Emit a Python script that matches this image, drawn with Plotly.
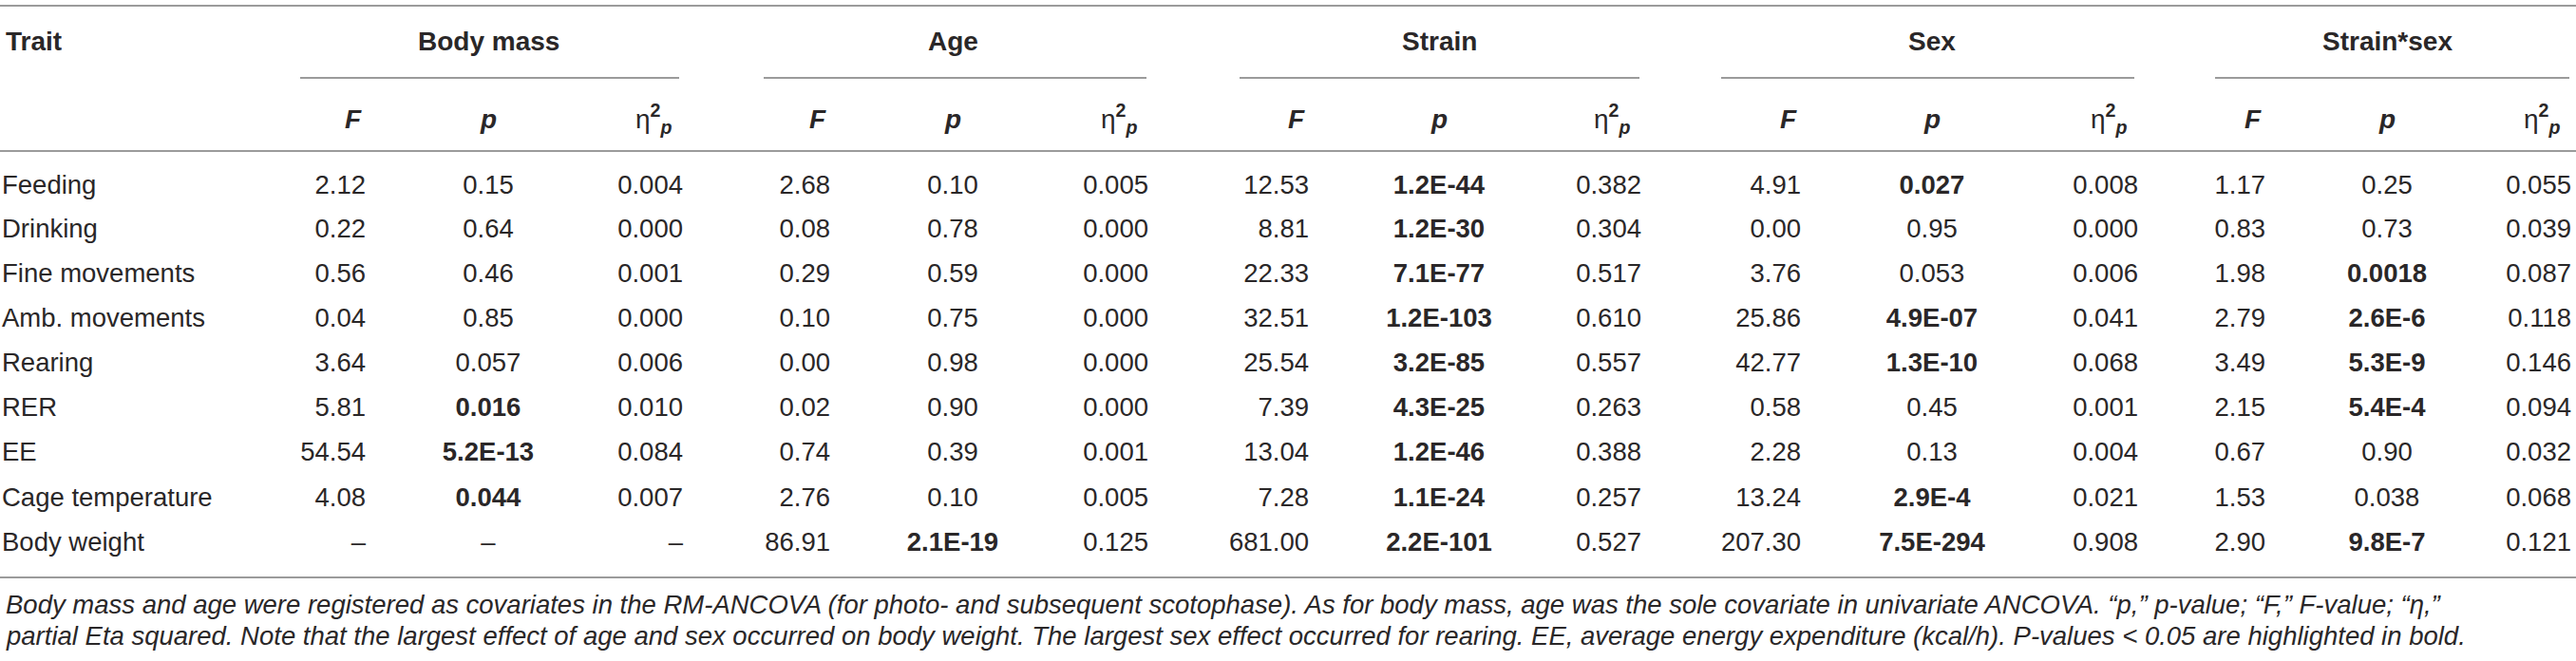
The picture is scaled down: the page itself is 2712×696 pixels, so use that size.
import plotly.graph_objects as go

# table content
traits = ["Feeding", "Drinking", "Fine movements", "Amb. movements", "Rearing",
          "RER", "EE", "Cage temperature", "Body weight"]
groups = ["Body mass", "Age", "Strain", "Sex", "Strain*sex"]

body_mass_F = ["2.12", "0.22", "0.56", "0.04", "3.64", "5.81", "54.54", "4.08", "–"]
body_mass_p = ["0.15", "0.64", "0.46", "0.85", "0.057", "0.016", "5.2E-13", "0.044", "–"]
body_mass_eta = ["0.004", "0.000", "0.001", "0.000", "0.006", "0.010", "0.084", "0.007", "–"]

age_F = ["2.68", "0.08", "0.29", "0.10", "0.00", "0.02", "0.74", "2.76", "86.91"]
age_p = ["0.10", "0.78", "0.59", "0.75", "0.98", "0.90", "0.39", "0.10", "2.1E-19"]
age_eta = ["0.005", "0.000", "0.000", "0.000", "0.000", "0.000", "0.001", "0.005", "0.125"]

strain_F = ["12.53", "8.81", "22.33", "32.51", "25.54", "7.39", "13.04", "7.28", "681.00"]
strain_p = ["1.2E-44", "1.2E-30", "7.1E-77", "1.2E-103", "3.2E-85", "4.3E-25", "1.2E-46", "1.1E-24", "2.2E-101"]
strain_eta = ["0.382", "0.304", "0.517", "0.610", "0.557", "0.263", "0.388", "0.257", "0.527"]

sex_F = ["4.91", "0.00", "3.76", "25.86", "42.77", "0.58", "2.28", "13.24", "207.30"]
sex_p = ["0.027", "0.95", "0.053", "4.9E-07", "1.3E-10", "0.45", "0.13", "2.9E-4", "7.5E-294"]
sex_eta = ["0.008", "0.000", "0.006", "0.041", "0.068", "0.001", "0.004", "0.021", "0.908"]

inter_F = ["1.17", "0.83", "1.98", "2.79", "3.49", "2.15", "0.67", "1.53", "2.90"]
inter_p = ["0.25", "0.73", "0.0018", "2.6E-6", "5.3E-9", "5.4E-4", "0.90", "0.038", "9.8E-7"]
inter_eta = ["0.055", "0.039", "0.087", "0.118", "0.146", "0.094", "0.032", "0.068", "0.121"]

# the source leaves this one unbolded
not_bold = {("Strain*sex", "Cage temperature")}

footnote = [
    "Body mass and age were registered as covariates in the RM-ANCOVA (for photo- and subsequent scotophase). "
    "As for body mass, age was the sole covariate in univariate ANCOVA. “p,” p-value; “F,” F-value; “η,”",
    "partial Eta squared. Note that the largest effect of age and sex occurred on body weight. "
    "The largest sex effect occurred for rearing. EE, average energy expenditure (kcal/h). "
    "P-values < 0.05 are highlighted in bold.",
]

columns = {
    "Body mass": (body_mass_F, body_mass_p, body_mass_eta),
    "Age": (age_F, age_p, age_eta),
    "Strain": (strain_F, strain_p, strain_eta),
    "Sex": (sex_F, sex_p, sex_eta),
    "Strain*sex": (inter_F, inter_p, inter_eta),
}

# layout (pixels)
W, H = 2712, 696
FONT = "Liberation Sans, Arial, Helvetica, sans-serif"
INK = "#2a2728"
RULE = "#9b9b9b"
SIZE = 27.5
HEAD = 28
NOTE = 27.5
row_y = [197, 243, 290, 337, 384, 431, 478, 526, 573]
F_right = [383, 872, 1376, 1894, 2383]
p_center = [514, 1003, 1515, 2034, 2513]
eta_right = [717, 1207, 1726, 2249, 2705]
group_rule = [(316, 715), (804, 1207), (1305, 1726), (1812, 2247), (2332, 2705)]


def is_bold(group, trait, p):
    try:
        return float(p) < 0.05 and (group, trait) not in not_bold
    except ValueError:
        return False


cell_font = dict(family=FONT, size=SIZE, color=INK)
head_font = dict(family=FONT, size=HEAD, color=INK)

fig = go.Figure()

# trait names
fig.add_trace(go.Scatter(x=[2] * len(traits), y=row_y, text=traits, mode="text",
                         textposition="middle right", textfont=cell_font))

for i, g in enumerate(groups):
    F, p, eta = columns[g]
    fig.add_trace(go.Scatter(x=[F_right[i] + 2] * len(F), y=row_y, text=F, mode="text",
                             textposition="middle left", textfont=cell_font))
    p_txt = [f"<b>{v}</b>" if is_bold(g, t, v) else v for t, v in zip(traits, p)]
    fig.add_trace(go.Scatter(x=[p_center[i]] * len(p), y=row_y, text=p_txt, mode="text",
                             textposition="middle center", textfont=cell_font))
    fig.add_trace(go.Scatter(x=[eta_right[i] + 2] * len(eta), y=row_y, text=eta, mode="text",
                             textposition="middle left", textfont=cell_font))

    # header cells
    fig.add_annotation(x=p_center[i], y=43, text=f"<b>{g}</b>", showarrow=False,
                       xanchor="center", yanchor="middle", font=head_font)
    fig.add_annotation(x=F_right[i], y=125, text="<b><i>F</i></b>", showarrow=False,
                       xanchor="right", yanchor="middle", font=head_font)
    fig.add_annotation(x=p_center[i], y=125, text="<b><i>p</i></b>", showarrow=False,
                       xanchor="center", yanchor="middle", font=head_font)
    fig.add_annotation(x=eta_right[i] - 8, y=125, text="η<sup><b>2</b></sup><sub><b><i>p</i></b></sub>",
                       showarrow=False, xanchor="right", yanchor="middle", font=head_font)
    x0, x1 = group_rule[i]
    fig.add_shape(type="line", x0=x0, x1=x1, y0=82, y1=82, line=dict(color=RULE, width=2))

fig.add_annotation(x=4, y=43, text="<b>Trait</b>", showarrow=False, xanchor="left",
                   yanchor="middle", font=head_font)

for y in (6, 159, 608):
    fig.add_shape(type="line", x0=0, x1=W, y0=y, y1=y, line=dict(color=RULE, width=2))

for y, line in zip((636, 669), footnote):
    fig.add_annotation(x=4, y=y, text=f"<i>{line}</i>", showarrow=False,
                       xanchor="left", yanchor="middle",
                       font=dict(family=FONT, size=NOTE, color=INK))

fig.update_layout(
    width=W, height=H,
    margin=dict(l=0, r=0, t=0, b=0),
    paper_bgcolor="white", plot_bgcolor="white",
    showlegend=False,
    font=dict(family=FONT, size=SIZE, color=INK),
    xaxis=dict(range=[0, W], visible=False, fixedrange=True),
    yaxis=dict(range=[H, 0], visible=False, fixedrange=True),
)

fig.write_html("out.html", config={"displayModeBar": False},
               post_script="document.body.style.margin='0';document.body.style.overflow='hidden';")
